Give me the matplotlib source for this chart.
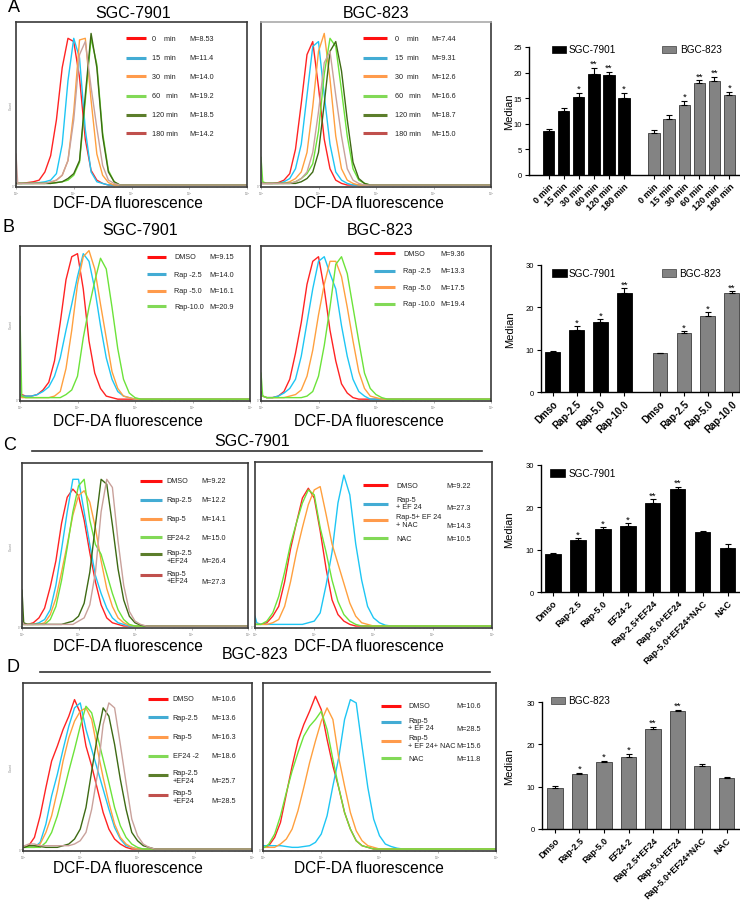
import matplotlib
matplotlib.use("Agg")
import matplotlib.pyplot as plt
import numpy as np
from matplotlib.patches import Rectangle
from matplotlib.lines import Line2D

plt.rcParams['font.family'] = ['Liberation Sans', 'DejaVu Sans']

W, H = 740, 904

# ---------------- histogram data (log10 fluorescence, relative count) ----------------
GRID = [0.0, 0.03, 0.1, 0.2, 0.3, 0.4, 0.5, 0.6, 0.7, 0.8, 0.9, 1.0, 1.1, 1.2,
        1.3, 1.4, 1.5, 1.6, 1.7, 1.8, 1.9, 2.0, 2.1, 2.2, 2.3, 2.4, 4.0]

A_SGC_CURVES = [
  [0.01, 0.01, 0.01, 0.015, 0.02, 0.03, 0.08, 0.18, 0.4, 0.72, 0.9, 0.88, 0.66, 0.28, 0.09, 0.03, 0.01, 0, 0, 0, 0, 0, 0, 0, 0, 0, 0],
  [0.01, 0.01, 0.01, 0.01, 0.01, 0.015, 0.02, 0.03, 0.07, 0.25, 0.64, 0.9, 0.78, 0.34, 0.08, 0.02, 0.01, 0, 0, 0, 0, 0, 0, 0, 0, 0, 0],
  [0.01, 0.01, 0.01, 0.01, 0.01, 0.01, 0.01, 0.015, 0.03, 0.06, 0.15, 0.45, 0.89, 0.9, 0.52, 0.19, 0.06, 0.015, 0, 0, 0, 0, 0, 0, 0, 0, 0],
  [0.01, 0.01, 0.01, 0.01, 0.01, 0.01, 0.01, 0.01, 0.015, 0.02, 0.03, 0.06, 0.14, 0.52, 0.9, 0.74, 0.32, 0.09, 0.02, 0, 0, 0, 0, 0, 0, 0, 0],
  [0.01, 0.01, 0.01, 0.01, 0.01, 0.01, 0.01, 0.01, 0.015, 0.02, 0.04, 0.07, 0.15, 0.55, 0.93, 0.72, 0.3, 0.08, 0.02, 0, 0, 0, 0, 0, 0, 0, 0],
  [0.19, 0.01, 0.01, 0.01, 0.01, 0.01, 0.01, 0.02, 0.03, 0.06, 0.15, 0.4, 0.8, 0.88, 0.6, 0.35, 0.12, 0.03, 0.01, 0, 0, 0, 0, 0, 0, 0, 0],
]
A_BGC_CURVES = [
  [0.01, 0.01, 0.01, 0.01, 0.015, 0.03, 0.07, 0.22, 0.5, 0.8, 0.88, 0.6, 0.28, 0.1, 0.03, 0.01, 0, 0, 0, 0, 0, 0, 0, 0, 0, 0, 0],
  [0.01, 0.01, 0.01, 0.01, 0.01, 0.02, 0.04, 0.1, 0.25, 0.55, 0.85, 0.88, 0.55, 0.25, 0.08, 0.03, 0.01, 0, 0, 0, 0, 0, 0, 0, 0, 0, 0],
  [0.01, 0.01, 0.01, 0.01, 0.01, 0.01, 0.02, 0.04, 0.08, 0.2, 0.48, 0.82, 0.93, 0.65, 0.3, 0.1, 0.03, 0.01, 0, 0, 0, 0, 0, 0, 0, 0, 0],
  [0.17, 0.02, 0.01, 0.01, 0.01, 0.01, 0.01, 0.02, 0.04, 0.07, 0.13, 0.33, 0.68, 0.9, 0.85, 0.58, 0.3, 0.1, 0.03, 0.01, 0, 0, 0, 0, 0, 0, 0],
  [0.01, 0.01, 0.01, 0.01, 0.01, 0.01, 0.01, 0.01, 0.02, 0.04, 0.08, 0.2, 0.5, 0.82, 0.88, 0.7, 0.4, 0.14, 0.04, 0.01, 0, 0, 0, 0, 0, 0, 0],
  [0.01, 0.01, 0.01, 0.01, 0.01, 0.01, 0.01, 0.02, 0.04, 0.08, 0.2, 0.45, 0.75, 0.82, 0.55, 0.3, 0.1, 0.03, 0.01, 0, 0, 0, 0, 0, 0, 0, 0],
]
B_SGC_CURVES = [
  [0.03, 0.03, 0.02, 0.02, 0.03, 0.06, 0.11, 0.25, 0.5, 0.78, 0.93, 0.95, 0.72, 0.38, 0.17, 0.07, 0.02, 0.01, 0, 0, 0, 0, 0, 0, 0, 0, 0],
  [0.03, 0.02, 0.02, 0.02, 0.03, 0.05, 0.08, 0.15, 0.27, 0.45, 0.62, 0.8, 0.95, 0.9, 0.72, 0.48, 0.27, 0.13, 0.05, 0.02, 0.01, 0, 0, 0, 0, 0, 0],
  [0.02, 0.01, 0.01, 0.01, 0.01, 0.01, 0.01, 0.02, 0.05, 0.2, 0.45, 0.75, 0.93, 0.97, 0.85, 0.62, 0.4, 0.18, 0.07, 0.02, 0.01, 0, 0, 0, 0, 0, 0],
  [0.54, 0.02, 0.01, 0.01, 0.01, 0.01, 0.01, 0.01, 0.01, 0.03, 0.06, 0.15, 0.4, 0.6, 0.77, 0.92, 0.85, 0.6, 0.33, 0.13, 0.04, 0.01, 0, 0, 0, 0, 0],
]
B_BGC_CURVES = [
  [0.05, 0.02, 0.01, 0.01, 0.02, 0.05, 0.13, 0.3, 0.5, 0.75, 0.9, 0.93, 0.72, 0.45, 0.25, 0.1, 0.04, 0.01, 0, 0, 0, 0, 0, 0, 0, 0, 0],
  [0.03, 0.02, 0.01, 0.01, 0.02, 0.04, 0.07, 0.13, 0.28, 0.5, 0.72, 0.9, 0.93, 0.82, 0.72, 0.48, 0.28, 0.13, 0.05, 0.02, 0, 0, 0, 0, 0, 0, 0],
  [0.02, 0.02, 0.01, 0.01, 0.01, 0.01, 0.02, 0.03, 0.06, 0.15, 0.32, 0.55, 0.75, 0.9, 0.9, 0.8, 0.6, 0.38, 0.18, 0.07, 0.02, 0.01, 0, 0, 0, 0, 0],
  [0.17, 0.02, 0.01, 0.01, 0.01, 0.01, 0.01, 0.01, 0.01, 0.02, 0.05, 0.15, 0.35, 0.6, 0.88, 0.93, 0.82, 0.6, 0.38, 0.17, 0.07, 0.03, 0.01, 0, 0, 0, 0],
]
C_SGC_CURVES = [
  [0.02, 0.01, 0.01, 0.02, 0.05, 0.11, 0.24, 0.4, 0.63, 0.79, 0.84, 0.8, 0.65, 0.45, 0.27, 0.13, 0.05, 0.02, 0.01, 0, 0, 0, 0, 0, 0, 0, 0],
  [0.01, 0.01, 0.01, 0.01, 0.02, 0.04, 0.1, 0.25, 0.47, 0.7, 0.9, 0.9, 0.7, 0.5, 0.31, 0.2, 0.11, 0.05, 0.02, 0.01, 0, 0, 0, 0, 0, 0, 0],
  [0.01, 0.01, 0.01, 0.01, 0.01, 0.02, 0.07, 0.17, 0.33, 0.5, 0.68, 0.8, 0.83, 0.76, 0.6, 0.4, 0.23, 0.12, 0.05, 0.02, 0.005, 0, 0, 0, 0, 0, 0],
  [0.01, 0.01, 0.01, 0.01, 0.01, 0.01, 0.04, 0.12, 0.28, 0.48, 0.7, 0.86, 0.9, 0.65, 0.5, 0.44, 0.32, 0.2, 0.1, 0.04, 0.01, 0, 0, 0, 0, 0, 0],
  [0.22, 0.02, 0.01, 0.01, 0.01, 0.01, 0.01, 0.01, 0.01, 0.02, 0.03, 0.06, 0.14, 0.33, 0.62, 0.9, 0.87, 0.62, 0.35, 0.16, 0.06, 0.02, 0.005, 0, 0, 0, 0],
  [0.03, 0.01, 0.01, 0.01, 0.01, 0.01, 0.01, 0.01, 0.01, 0.01, 0.01, 0.03, 0.05, 0.13, 0.33, 0.7, 0.9, 0.85, 0.52, 0.25, 0.09, 0.03, 0.01, 0, 0, 0, 0],
]
C_MIX_CURVES = [
  [0.01, 0.01, 0.01, 0.02, 0.06, 0.12, 0.27, 0.47, 0.63, 0.78, 0.84, 0.78, 0.58, 0.35, 0.16, 0.07, 0.03, 0.01, 0, 0, 0, 0, 0, 0, 0, 0, 0],
  [0.06, 0.02, 0.01, 0.01, 0.01, 0.01, 0.01, 0.01, 0.01, 0.01, 0.02, 0.03, 0.08, 0.25, 0.45, 0.75, 0.92, 0.8, 0.5, 0.28, 0.12, 0.05, 0.02, 0.005, 0, 0, 0],
  [0.01, 0.01, 0.01, 0.01, 0.02, 0.04, 0.12, 0.27, 0.45, 0.6, 0.74, 0.83, 0.85, 0.68, 0.5, 0.38, 0.26, 0.14, 0.06, 0.02, 0.01, 0, 0, 0, 0, 0, 0],
  [0.01, 0.01, 0.01, 0.03, 0.08, 0.18, 0.33, 0.5, 0.63, 0.75, 0.83, 0.8, 0.6, 0.45, 0.28, 0.15, 0.07, 0.03, 0.01, 0, 0, 0, 0, 0, 0, 0, 0],
]
D_BGC_CURVES = [
  [0.01, 0.01, 0.02, 0.07, 0.2, 0.37, 0.53, 0.62, 0.72, 0.8, 0.9, 0.82, 0.62, 0.5, 0.36, 0.22, 0.12, 0.06, 0.03, 0.01, 0, 0, 0, 0, 0, 0, 0],
  [0.01, 0.01, 0.01, 0.01, 0.04, 0.15, 0.32, 0.45, 0.6, 0.74, 0.85, 0.88, 0.72, 0.6, 0.48, 0.36, 0.24, 0.13, 0.06, 0.02, 0.01, 0, 0, 0, 0, 0, 0],
  [0.01, 0.01, 0.01, 0.01, 0.03, 0.1, 0.2, 0.35, 0.53, 0.67, 0.77, 0.83, 0.85, 0.78, 0.6, 0.43, 0.28, 0.15, 0.07, 0.03, 0.01, 0, 0, 0, 0, 0, 0],
  [0.01, 0.01, 0.01, 0.01, 0.01, 0.04, 0.1, 0.2, 0.33, 0.47, 0.6, 0.74, 0.86, 0.82, 0.68, 0.54, 0.4, 0.25, 0.14, 0.07, 0.03, 0.01, 0, 0, 0, 0, 0],
  [0.01, 0.01, 0.02, 0.02, 0.015, 0.01, 0.01, 0.01, 0.02, 0.03, 0.06, 0.12, 0.25, 0.47, 0.68, 0.85, 0.8, 0.63, 0.42, 0.24, 0.1, 0.05, 0.02, 0.01, 0, 0, 0],
  [0.02, 0.02, 0.03, 0.03, 0.02, 0.02, 0.02, 0.02, 0.02, 0.02, 0.03, 0.05, 0.1, 0.24, 0.45, 0.75, 0.88, 0.85, 0.63, 0.4, 0.18, 0.08, 0.03, 0.01, 0, 0, 0],
]
D_MIX_CURVES = [
  [0.01, 0.01, 0.02, 0.07, 0.16, 0.33, 0.5, 0.65, 0.75, 0.83, 0.92, 0.84, 0.66, 0.5, 0.37, 0.22, 0.12, 0.05, 0.02, 0.01, 0, 0, 0, 0, 0, 0, 0],
  [0.02, 0.02, 0.02, 0.02, 0.02, 0.015, 0.01, 0.01, 0.015, 0.02, 0.04, 0.09, 0.2, 0.38, 0.55, 0.78, 0.9, 0.88, 0.62, 0.37, 0.18, 0.08, 0.03, 0.015, 0.005, 0, 0],
  [0.01, 0.01, 0.01, 0.01, 0.03, 0.06, 0.12, 0.23, 0.37, 0.52, 0.65, 0.77, 0.85, 0.78, 0.55, 0.38, 0.22, 0.11, 0.05, 0.02, 0.01, 0, 0, 0, 0, 0, 0],
  [0.01, 0.01, 0.03, 0.09, 0.2, 0.34, 0.47, 0.58, 0.68, 0.74, 0.78, 0.83, 0.72, 0.54, 0.37, 0.22, 0.12, 0.05, 0.02, 0.01, 0, 0, 0, 0, 0, 0, 0],
]

TIME_LABELS = ["0    min", "15  min", "30  min", "60   min", "120 min", "180 min"]
A_SGC_M = ["M=8.53", "M=11.4", "M=14.0", "M=19.2", "M=18.5", "M=14.2"]
A_BGC_M = ["M=7.44", "M=9.31", "M=12.6", "M=16.6", "M=18.7", "M=15.0"]
B_SGC_LABELS = ["DMSO", "Rap -2.5", "Rap -5.0", "Rap-10.0"]
B_BGC_LABELS = ["DMSO", "Rap -2.5", "Rap -5.0", "Rap -10.0"]
B_SGC_M = ["M=9.15", "M=14.0", "M=16.1", "M=20.9"]
B_BGC_M = ["M=9.36", "M=13.3", "M=17.5", "M=19.4"]
C_SGC_LABELS = ["DMSO", "Rap-2.5", "Rap-5", "EF24-2", "Rap-2.5\n+EF24", "Rap-5\n+EF24"]
C_SGC_M = ["M=9.22", "M=12.2", "M=14.1", "M=15.0", "M=26.4", "M=27.3"]
C_MIX_LABELS = ["DMSO", "Rap-5\n+ EF 24", "Rap-5+ EF 24\n+ NAC", "NAC"]
C_MIX_M = ["M=9.22", "M=27.3", "M=14.3", "M=10.5"]
D_BGC_LABELS = ["DMSO", "Rap-2.5", "Rap-5", "EF24 -2", "Rap-2.5\n+EF24", "Rap-5\n+EF24"]
D_BGC_M = ["M=10.6", "M=13.6", "M=16.3", "M=18.6", "M=25.7", "M=28.5"]
D_MIX_LABELS = ["DMSO", "Rap-5\n+ EF 24", "Rap-5\n+ EF 24+ NAC", "NAC"]
D_MIX_M = ["M=10.6", "M=28.5", "M=15.6", "M=11.8"]

# ---------------- bar chart data (median +- error) ----------------
A_BAR_LABELS = ["0 min", "15 min", "30 min", "60 min", "120 min", "180 min"]
A_SGC_MED = [8.6, 12.5, 15.3, 19.7, 19.6, 15.0]
A_SGC_ERR = [0.4, 0.6, 0.7, 1.2, 0.5, 1.0]
A_SGC_SIG = ["", "", "*", "**", "**", "*"]
A_BGC_MED = [8.3, 10.9, 13.7, 17.9, 18.3, 15.6]
A_BGC_ERR = [0.4, 0.9, 0.8, 0.6, 0.9, 0.7]
A_BGC_SIG = ["", "", "*", "**", "**", "*"]

B_BAR_LABELS = ["Dmso", "Rap-2.5", "Rap-5.0", "Rap-10.0"]
B_SGC_MED = [9.4, 14.7, 16.6, 23.3]
B_SGC_ERR = [0.4, 0.8, 0.6, 1.2]
B_SGC_SIG = ["", "*", "*", "**"]
B_BGC_MED = [9.1, 13.9, 18.0, 23.3]
B_BGC_ERR = [0.15, 0.4, 0.8, 0.5]
B_BGC_SIG = ["", "*", "*", "**"]

CD_BAR_LABELS = ["Dmso", "Rap-2.5", "Rap-5.0", "EF24-2", "Rap-2.5+EF24",
                 "Rap-5.0+EF24", "Rap-5.0+EF24+NAC", "NAC"]
C_MED = [8.9, 12.3, 14.8, 15.6, 21.0, 24.4, 14.2, 10.5]
C_ERR = [0.2, 0.4, 0.5, 0.6, 0.9, 0.4, 0.3, 0.9]
C_SIG = ["", "*", "*", "*", "**", "**", "", ""]
D_MED = [9.6, 13.0, 15.9, 17.0, 23.7, 27.9, 14.8, 12.1]
D_ERR = [0.5, 0.3, 0.2, 0.8, 0.5, 0.3, 0.6, 0.2]
D_SIG = ["", "*", "*", "*", "**", "**", "", ""]

for arr in (A_SGC_CURVES + A_BGC_CURVES + B_SGC_CURVES + B_BGC_CURVES + C_SGC_CURVES
            + C_MIX_CURVES + D_BGC_CURVES + D_MIX_CURVES):
    assert len(arr) == len(GRID)

# curve colours and legend-key colours
CURVE_COL = {'red': '#ff2323', 'cyan': '#1ec6f4', 'orange': '#ffa03e',
             'green': '#6ce33a', 'dkgreen': '#3e6a14', 'pink': '#c9a19b'}
KEY_COL = {'red': '#ff1010', 'cyan': '#43acd4', 'orange': '#ff9b4c',
           'green': '#82d957', 'dkgreen': '#5c7e2c', 'pink': '#c0504d'}
SIX = ['red', 'cyan', 'orange', 'green', 'dkgreen', 'pink']
FOUR = ['red', 'cyan', 'orange', 'green']
GRAY = '#838383'
LEG_FS = 5.2

fig = plt.figure(figsize=(W / 100, H / 100), dpi=100)


def px_rect(x0, y0, x1, y1):
    return [x0 / W, 1 - y1 / H, (x1 - x0) / W, (y1 - y0) / H]


def ftext(x, y, s, **kw):
    kw.setdefault('ha', 'center')
    kw.setdefault('va', 'center')
    fig.text(x / W, 1 - y / H, s, **kw)


def hist_panel(rect, curves, cols, labels, mvals, lx, rows, count=True):
    ax = fig.add_axes(px_rect(*rect))
    xs = 10 ** np.array(GRID)
    for ys, c in zip(curves, cols):
        ax.plot(xs, ys, color=CURVE_COL[c], lw=1.0)
    ax.set_xscale('log')
    ax.set_xlim(1, 1e4)
    ax.set_ylim(-0.012, 1.0)
    ax.set_xticks([1, 10, 100, 1000, 10000])
    ax.set_xticklabels([r'$10^0$', r'$10^1$', r'$10^2$', r'$10^3$', r'$10^4$'],
                       fontsize=2.0, color='#777777')
    ax.set_yticks([0])
    ax.set_yticklabels(['0'], fontsize=2.0, color='#777777')
    ax.tick_params(which='major', length=1.4, width=0.4, pad=0.3, colors='#777777')
    ax.tick_params(which='minor', length=0.8, width=0.3, colors='#999999')
    for sp in ax.spines.values():
        sp.set_linewidth(1.2)
        sp.set_color('#3a3a3a')
    x0, x1, xl, xm = lx
    for lab, m, c, (hy, ly, my) in zip(labels, mvals, cols, rows):
        ax.plot([x0, x1], [hy, hy], transform=ax.transAxes, color=KEY_COL[c],
                lw=2.2, solid_capstyle='butt')
        ax.text(xl, ly, lab, transform=ax.transAxes, fontsize=LEG_FS, va='center',
                ha='left', linespacing=1.1, color='#222222')
        ax.text(xm, my, m, transform=ax.transAxes, fontsize=LEG_FS, va='center',
                ha='left', color='#222222')
    if count:
        ftext(11, (rect[1] + rect[3]) / 2, 'Count', fontsize=2.3, rotation=90,
              color='#888888')
    return ax


def bar_panel(rect, ymax, yticks, xlim, groups, positions, ticklabels, fs, ylab_x):
    ax = fig.add_axes(px_rect(*rect))
    for pos, vals, errs, sig, color, width in groups:
        ec = 'black' if color == 'black' else '#3c3c3c'
        ax.bar(pos, vals, width=width, color=color, edgecolor=ec, lw=0.6)
        ax.errorbar(pos, vals, yerr=[np.zeros(len(vals)), errs], fmt='none',
                    ecolor='black', elinewidth=0.8, capsize=2.2, capthick=0.8)
        for x, v, e, s in zip(pos, vals, errs, sig):
            if s:
                ax.text(x, v + e + 0.035 * ymax, s, ha='center', va='center',
                        fontsize=6.8)
    ax.set_ylim(0, ymax)
    ax.set_xlim(*xlim)
    ax.set_yticks(yticks)
    ax.tick_params(axis='y', labelsize=5.5, length=3, width=0.8, pad=2)
    ax.set_xticks(positions)
    ax.set_xticklabels(ticklabels, rotation=45, ha='right', rotation_mode='anchor',
                       fontsize=fs, fontweight='bold')
    ax.tick_params(axis='x', length=3, width=0.8, pad=1.5)
    ax.spines['top'].set_visible(False)
    ax.spines['right'].set_visible(False)
    ax.spines['left'].set_linewidth(1.0)
    ax.spines['bottom'].set_linewidth(1.0)
    ax.set_ylabel('Median', fontsize=8)
    ax.yaxis.set_label_coords(ylab_x, 0.5)
    return ax


def bar_key(x0, x1, y0, y1, tx, label, color):
    fig.add_artist(Rectangle((x0 / W, 1 - y1 / H), (x1 - x0) / W, (y1 - y0) / H,
                             transform=fig.transFigure, facecolor=color,
                             edgecolor='#3c3c3c' if color != 'black' else 'black', lw=0.5))
    ftext(tx, (y0 + y1) / 2, label, fontsize=7.2, ha='left')


# ---------------- panel A ----------------
ftext(14, 7, 'A', fontsize=13)
ftext(133, 14, 'SGC-7901', fontsize=11.5)
ftext(376, 14, 'BGC-823', fontsize=11.5)
rowsA = [(y, y, y) for y in [0.903, 0.782, 0.671, 0.553, 0.438, 0.325]]
hist_panel((16, 23, 247, 188), A_SGC_CURVES, SIX, TIME_LABELS, A_SGC_M,
           (0.476, 0.563, 0.589, 0.749), rowsA)
axA2 = hist_panel((261, 23, 491, 188), A_BGC_CURVES, SIX, TIME_LABELS, A_BGC_M,
                  (0.443, 0.548, 0.583, 0.739), rowsA, count=False)
axA2.spines['top'].set_color('#aaaaaa')
ftext(128, 204, 'DCF-DA fluorescence', fontsize=11.2)
ftext(369, 204, 'DCF-DA fluorescence', fontsize=11.2)

posA1 = np.arange(6)
posA2 = np.arange(6) + 7
bar_panel((529, 48, 740, 176), 25, [0, 5, 10, 15, 20, 25], (-1.3, 12.7),
          [(posA1, A_SGC_MED, A_SGC_ERR, A_SGC_SIG, 'black', 0.76),
           (posA2, A_BGC_MED, A_BGC_ERR, A_BGC_SIG, GRAY, 0.76)],
          np.concatenate([posA1, posA2]), A_BAR_LABELS + A_BAR_LABELS, 6.5, -0.072)
bar_key(552, 566, 47, 53.5, 569, 'SGC-7901', 'black')
bar_key(662, 676, 47, 53.5, 680, 'BGC-823', GRAY)

# ---------------- panel B ----------------
ftext(9, 228, 'B', fontsize=13)
ftext(140, 231, 'SGC-7901', fontsize=11.5)
ftext(380, 231, 'BGC-823', fontsize=11.5)
hist_panel((20, 247, 250, 402), B_SGC_CURVES, FOUR, B_SGC_LABELS, B_SGC_M,
           (0.552, 0.635, 0.67, 0.823), [(y, y, y) for y in [0.931, 0.819, 0.711, 0.611]])
hist_panel((261, 247, 491, 402), B_BGC_CURVES, FOUR, B_BGC_LABELS, B_BGC_M,
           (0.49, 0.583, 0.617, 0.778), [(y, y, y) for y in [0.953, 0.841, 0.733, 0.626]],
           count=False)
ftext(128, 421.5, 'DCF-DA fluorescence', fontsize=11.2)
ftext(369, 421.5, 'DCF-DA fluorescence', fontsize=11.2)

posB1 = np.arange(4)
posB2 = np.arange(4) + 4.5
bar_panel((541, 266, 740, 393), 30, [0, 10, 20, 30], (-0.49, 7.85),
          [(posB1, B_SGC_MED, B_SGC_ERR, B_SGC_SIG, 'black', 0.62),
           (posB2, B_BGC_MED, B_BGC_ERR, B_BGC_SIG, GRAY, 0.62)],
          np.concatenate([posB1, posB2]), B_BAR_LABELS + B_BAR_LABELS, 7, -0.128)
bar_key(552, 567, 270, 277.5, 569, 'SGC-7901', 'black')
bar_key(662, 676, 270, 277.5, 679, 'BGC-823', GRAY)

# ---------------- panel C ----------------
ftext(10, 446, 'C', fontsize=13)
ftext(252, 442, 'SGC-7901', fontsize=11.5)
fig.add_artist(Line2D([32 / W, 482 / W], [1 - 452 / H] * 2, color='#333333', lw=1.2))
rowsC1 = [(0.893, 0.893, 0.893), (0.776, 0.776, 0.776), (0.661, 0.661, 0.661),
          (0.55, 0.55, 0.55), (0.448, 0.433, 0.408), (0.323, 0.308, 0.281)]
hist_panel((22, 464, 248, 629), C_SGC_CURVES, SIX, C_SGC_LABELS, C_SGC_M,
           (0.522, 0.619, 0.64, 0.795), rowsC1)
rowsC2 = [(0.861, 0.861, 0.861), (0.747, 0.752, 0.727), (0.651, 0.647, 0.62),
          (0.54, 0.54, 0.54)]
hist_panel((255, 463, 492, 629), C_MIX_CURVES, FOUR, C_MIX_LABELS, C_MIX_M,
           (0.456, 0.561, 0.595, 0.809), rowsC2, count=False)
ftext(128, 646.5, 'DCF-DA fluorescence', fontsize=11.2)
ftext(369, 646.5, 'DCF-DA fluorescence', fontsize=11.2)

posCD = np.arange(8)
bar_panel((541, 466, 740, 593), 30, [0, 10, 20, 30], (-0.47, 7.5),
          [(posCD, C_MED, C_ERR, C_SIG, 'black', 0.63)], posCD, CD_BAR_LABELS,
          6.6, -0.136)
bar_key(550, 565, 470, 477.5, 569, 'SGC-7901', 'black')

# ---------------- panel D ----------------
ftext(13, 668, 'D', fontsize=13)
ftext(255, 655, 'BGC-823', fontsize=11.5)
fig.add_artist(Line2D([40 / W, 490 / W], [1 - 673 / H] * 2, color='#333333', lw=1.2))
rowsD1 = [(0.905, 0.905, 0.905), (0.796, 0.796, 0.796), (0.68, 0.68, 0.68),
          (0.567, 0.567, 0.567), (0.452, 0.443, 0.418), (0.333, 0.323, 0.298)]
hist_panel((23, 684, 252, 852), D_BGC_CURVES, SIX, D_BGC_LABELS, D_BGC_M,
           (0.546, 0.633, 0.654, 0.821), rowsD1)
rowsD2 = [(0.865, 0.865, 0.865), (0.766, 0.757, 0.732), (0.657, 0.652, 0.627),
          (0.552, 0.552, 0.552)]
hist_panel((263, 684, 496, 852), D_MIX_CURVES, FOUR, D_MIX_LABELS, D_MIX_M,
           (0.506, 0.592, 0.624, 0.832), rowsD2, count=False)
ftext(128, 868.5, 'DCF-DA fluorescence', fontsize=11.2)
ftext(369, 868.5, 'DCF-DA fluorescence', fontsize=11.2)

bar_panel((542, 703, 740, 830), 30, [0, 10, 20, 30], (-0.53, 7.55),
          [(posCD, D_MED, D_ERR, D_SIG, GRAY, 0.63)], posCD, CD_BAR_LABELS,
          6.4, -0.141)
bar_key(551, 565, 697.5, 704.5, 568, 'BGC-823', GRAY)

fig.savefig('out.png', dpi=100)
